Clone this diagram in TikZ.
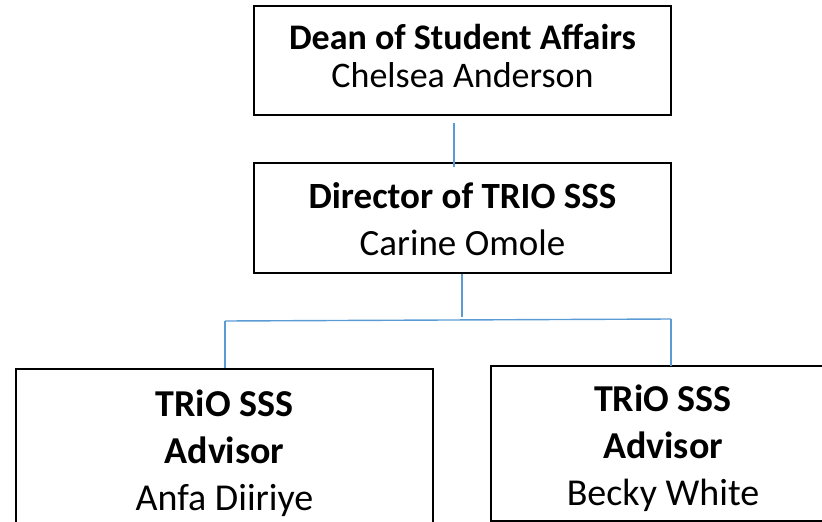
\documentclass[tikz,border=0pt]{standalone}
\usepackage{fontspec}
\setmainfont{Carlito}
\usetikzlibrary{calc}
\definecolor{connblue}{HTML}{5B9BD5}
\tikzset{
  box/.style={draw=black, line width=1.6pt, fill=white, inner sep=0pt},
  lbl/.style={align=center, inner sep=0pt, text=black},
  conn/.style={draw=connblue, line width=1.4pt}
}
\begin{document}
\begin{tikzpicture}[x=1pt,y=-1pt]
\useasboundingbox (0,0) rectangle (822,522);
% boxes
\node[box, minimum width=417pt, minimum height=109pt] (dean) at (462.5,60.5) {};
\node[box, minimum width=417pt, minimum height=110pt] (dir) at (462.5,218) {};
\node[box, minimum width=417pt, minimum height=170pt] (adv1) at (224.5,454) {};
\node[box, minimum width=344pt, minimum height=155pt] (adv2) at (663,443.5) {};
% texts
\node[lbl, font=\fontsize{36}{38}\selectfont] (deant) at (462.5,56)
  {\textbf{Dean of Student Affairs}\\Chelsea Anderson};
\node[lbl, font=\fontsize{37}{47}\selectfont] (dirt) at (462.5,219.5)
  {\textbf{Director of TRIO SSS}\\Carine Omole};
\node[lbl, font=\fontsize{38}{47}\selectfont] (adv1t) at (224.5,453)
  {\textbf{TRiO SSS}\\\textbf{Advisor}\\Anfa Diiriye};
\node[lbl, font=\fontsize{38}{47}\selectfont] (adv2t) at (663,448)
  {\textbf{TRiO SSS}\\\textbf{Advisor}\\Becky White};
% connectors
\coordinate (c1a) at (454,123);
\coordinate (c1b) at (454,167);
\coordinate (jm) at (462,317);
\coordinate (jl) at (225,321);
\coordinate (jr) at (671,319);
\coordinate (jr2) at (671,366);
\draw[conn] (c1a) -- (c1b);
\draw[conn] (dir.south -| jm) -- (jm);
\draw[conn] (jl) -- (jr);
\draw[conn] (jl) -- (jl |- adv1.north);
\draw[conn] (jr) -- (jr2);
\end{tikzpicture}
\end{document}
